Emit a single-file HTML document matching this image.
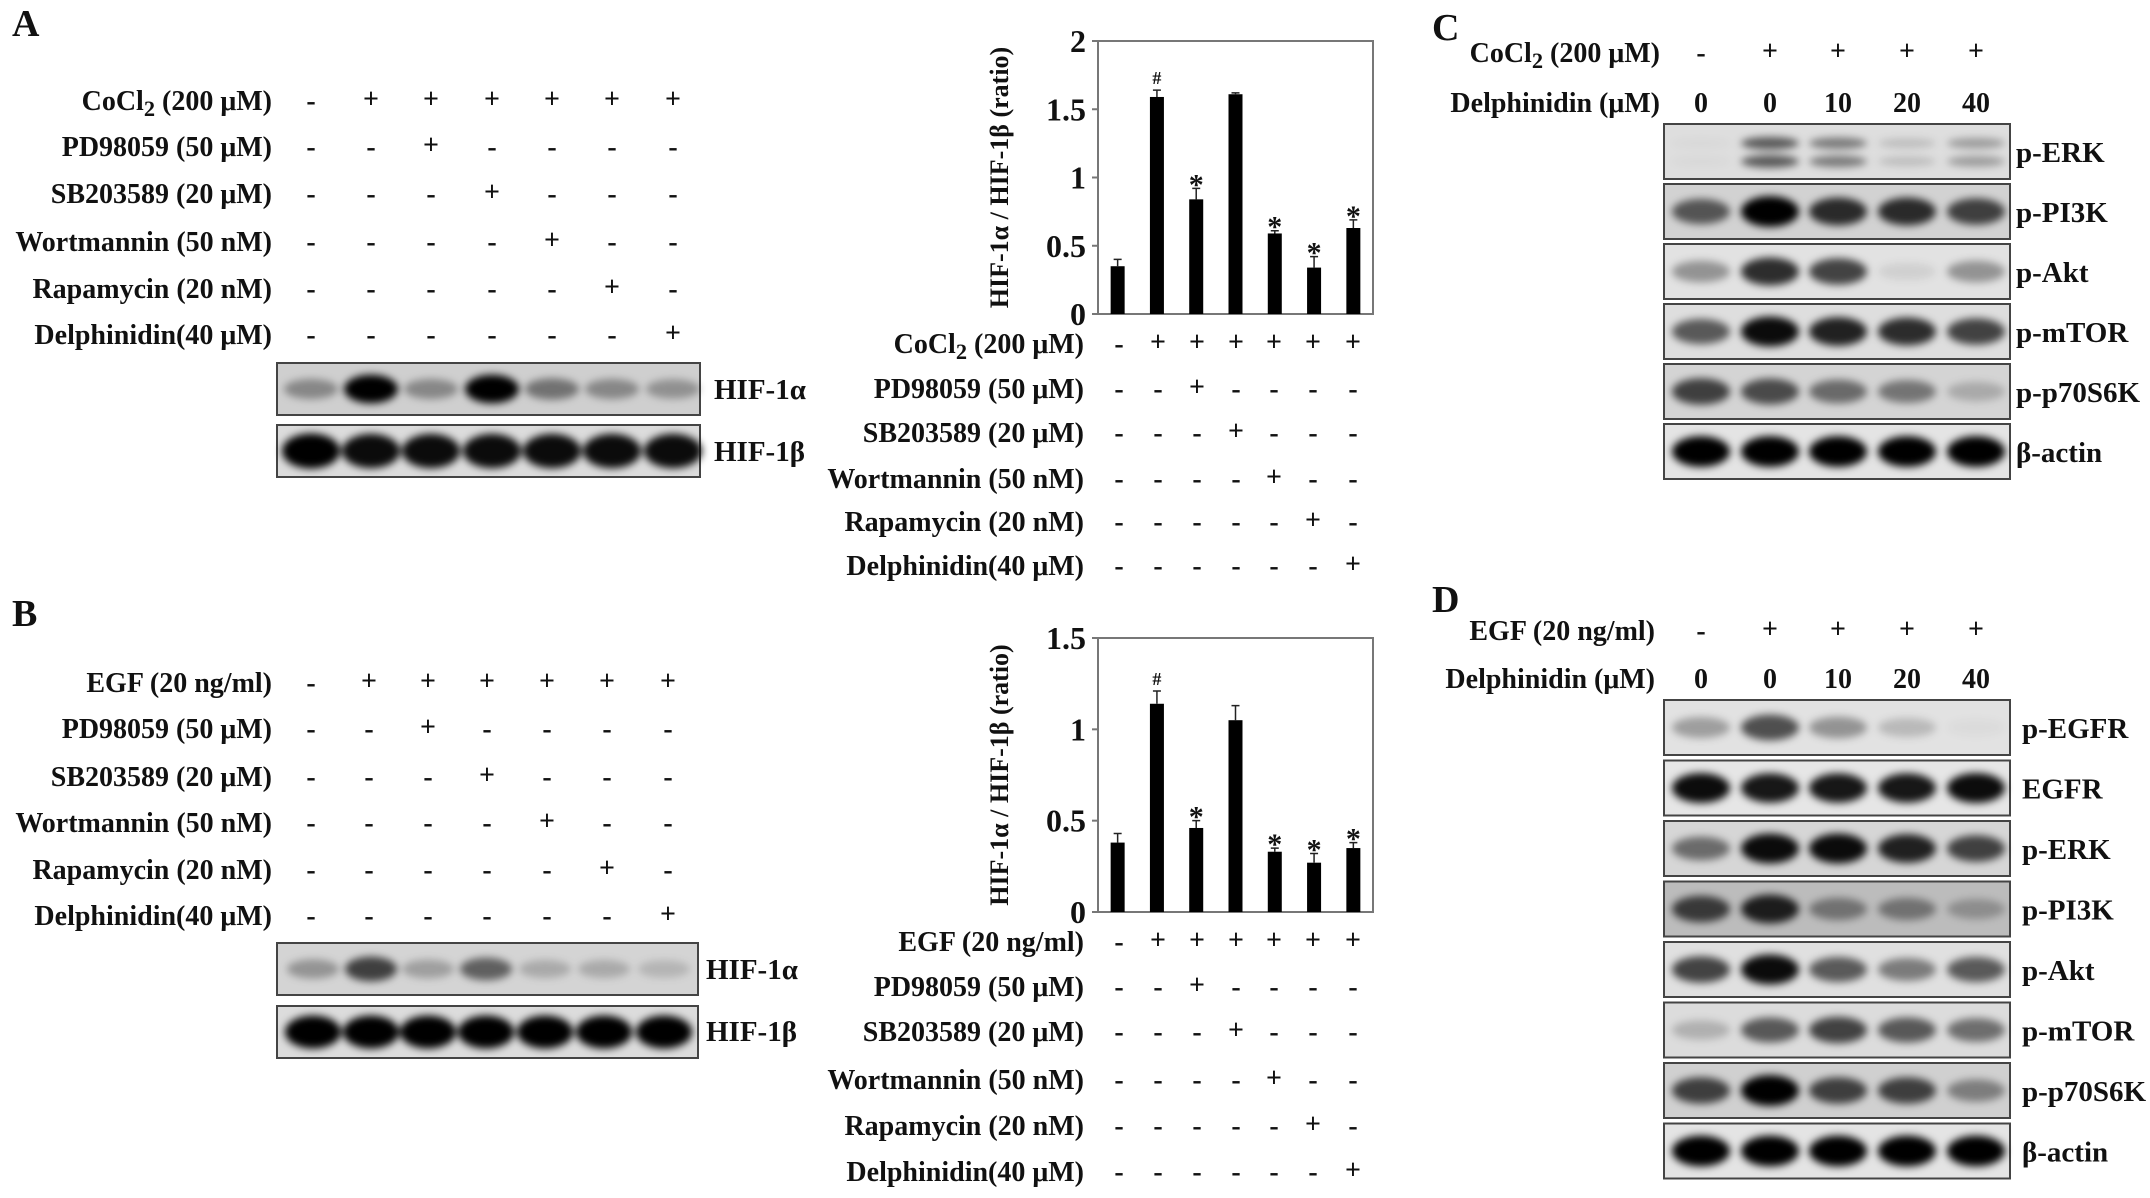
<!DOCTYPE html>
<html><head><meta charset="utf-8">
<style>
html,body{margin:0;padding:0;background:#fff;}
svg{display:block;}
text{font-family:"Liberation Serif",serif;font-weight:bold;fill:#111;}
</style></head>
<body>
<svg id="fig" width="2150" height="1198" viewBox="0 0 2150 1198" xmlns="http://www.w3.org/2000/svg">
<defs>
<filter id="blur" x="-50%" y="-100%" width="200%" height="300%"><feGaussianBlur stdDeviation="4"/></filter>
</defs>
<g id="root"></g>
</svg>
<script>
// ---- Chart data ----
const chartACategories = ["ctrl","CoCl2","PD98059","SB203589","Wortmannin","Rapamycin","Delphinidin"];
const chartAValues = [0.35,1.59,0.84,1.61,0.59,0.34,0.63];
const chartAErrors = [0.05,0.05,0.08,0.01,0.02,0.08,0.06];
const chartAMarks = ["","#","*","","*","*","*"];
const chartATicks = [0,0.5,1,1.5,2];
const chartBValues = [0.38,1.14,0.46,1.05,0.33,0.27,0.35];
const chartBErrors = [0.05,0.07,0.04,0.08,0.02,0.05,0.03];
const chartBMarks = ["","#","*","","*","*","*"];
const chartBTicks = [0,0.5,1,1.5];

const NS="http://www.w3.org/2000/svg";
const root=document.getElementById('root');
function el(tag,attrs,parent,txt){const e=document.createElementNS(NS,tag);for(const k in attrs)e.setAttribute(k,attrs[k]);if(txt!==undefined)e.textContent=txt;(parent||root).appendChild(e);return e;}

function panelLabel(t,x,y){
  const e=el('text',{x:x,y:y,'font-size':38},root,t);
  
  
}
panelLabel('A',12,36);panelLabel('B',12,626);panelLabel('C',1432,40);panelLabel('D',1432,612);

const FS=28;
function condTable(name,labels,rightX,ys,colXs,grid,fs){
  const g=el('g',{});
  
  
  labels.forEach((lab,i)=>{
    const t=el('text',{x:rightX,y:ys[i],'text-anchor':'end','font-size':fs},g);
    if(lab.indexOf('CoCl')===0){t.textContent='CoCl';el('tspan',{dy:6,'font-size':fs*0.8},t,'2');el('tspan',{dy:-6},t,lab.slice(5));}
    else t.textContent=lab;
    
    
    grid[i].forEach((v,j)=>{
      const m=el('text',{x:colXs[j],y:ys[i]-(v==='+'?2:0),'text-anchor':'middle','font-size':v==='+'?fs*1.0:fs,'font-weight':(v==='+'||v==='-')?'normal':'bold'},g,v);
      
      
    });
  });
}
const inhib=[
 ['-','+','+','+','+','+','+'],
 ['-','-','+','-','-','-','-'],
 ['-','-','-','+','-','-','-'],
 ['-','-','-','-','+','-','-'],
 ['-','-','-','-','-','+','-'],
 ['-','-','-','-','-','-','+']];
const labA=['CoCl2 (200 μM)','PD98059 (50 μM)','SB203589 (20 μM)','Wortmannin (50 nM)','Rapamycin (20 nM)','Delphinidin(40 μM)'];
const labB=['EGF (20 ng/ml)','PD98059 (50 μM)','SB203589 (20 μM)','Wortmannin (50 nM)','Rapamycin (20 nM)','Delphinidin(40 μM)'];
const blotCols=[311,371,431,492,552,612,673];
condTable('conditions-a',labA,272,[110,156,203,251,298,344],blotCols,inhib,FS);
condTable('conditions-b',labB,272,[692,738,786,832,879,925],[311,369,428,487,547,607,668],inhib,FS);

function blot(name,x,y,w,h,cols,ints,bg,bw,bh,dbl){
  const g=el('g',{});
  
  
  el('rect',{x:x,y:y,width:w,height:h,fill:bg,stroke:'#444','stroke-width':2},g);
  const gb=el('g',{filter:'url(#blur)'},g);
  cols.forEach((cx,i)=>{
    const v=ints[i]; if(v<=0.02)return;
    const ys=dbl?[y+h*0.35,y+h*0.68]:[y+h/2];
    ys.forEach(cy=>{
      const b=el('ellipse',{cx:cx,cy:cy,rx:bw/2,ry:(dbl?bh*0.5:bh)/2*(0.6+0.5*v),fill:'#000','fill-opacity':Math.min(1,v)},gb);
      
      
    });
  });
}
function blotLabel(t,x,y){const e=el('text',{x:x,y:y,'font-size':29},root,t);}

blot('blot-a-hif1a',277,363,423,52,blotCols,[0.35,1,0.35,1,0.45,0.35,0.3],'#cfcfcf',54,26);
blotLabel('HIF-1α',714,399);
blot('blot-a-hif1b',277,425,423,52,blotCols,[1,0.95,0.95,0.95,0.95,0.95,0.95],'#dcdcdc',58,32);
blotLabel('HIF-1β',714,461);
const colsB=[313,371,428,486,545,604,664];
blot('blot-b-hif1a',277,943,421,52,colsB,[0.3,0.7,0.25,0.55,0.2,0.2,0.15],'#d4d4d4',52,26);
blotLabel('HIF-1α',706,979);
blot('blot-b-hif1b',277,1006,421,52,colsB,[1,1,1,1,1,1,1],'#dcdcdc',56,30);
blotLabel('HIF-1β',706,1041);

const colsC=[1701,1770,1838,1907,1976];
condTable('conditions-c',['CoCl2 (200 μM)'],1660,[62],colsC,[['-','+','+','+','+']],FS);
condTable('conditions-c2',['Delphinidin (μM)'],1660,[112],colsC,[['0','0','10','20','40']],FS);
const cRows=[['p-ERK',[0.03,0.6,0.45,0.15,0.3],'#dedede',true],['p-PI3K',[0.6,1,0.8,0.8,0.7],'#d2d2d2'],['p-Akt',[0.35,0.8,0.7,0.08,0.35],'#e2e2e2'],['p-mTOR',[0.6,0.95,0.85,0.8,0.7],'#dedede'],['p-p70S6K',[0.7,0.65,0.5,0.45,0.2],'#d4d4d4'],['β-actin',[1,1,1,1,1],'#e4e4e4']];
cRows.forEach((r,i)=>{const y=124+i*60;blot('blot-c-'+r[0],1664,y,346,55,colsC,r[1],r[2],58,28,r[3]);blotLabel(r[0],2016,y+38);});
condTable('conditions-d',['EGF (20 ng/ml)'],1655,[640],colsC,[['-','+','+','+','+']],FS);
condTable('conditions-d2',['Delphinidin (μM)'],1655,[688],colsC,[['0','0','10','20','40']],FS);
const dRows=[['p-EGFR',[0.3,0.65,0.35,0.18,0.03],'#e2e2e2'],['EGFR',[0.95,0.9,0.9,0.9,0.95],'#e6e6e6'],['p-ERK',[0.5,0.95,0.95,0.85,0.7],'#d6d6d6'],['p-PI3K',[0.7,0.85,0.4,0.4,0.25],'#bcbcbc'],['p-Akt',[0.7,0.95,0.6,0.45,0.6],'#e0e0e0'],['p-mTOR',[0.2,0.6,0.7,0.6,0.5],'#dcdcdc'],['p-p70S6K',[0.7,1,0.7,0.7,0.4],'#d0d0d0'],['β-actin',[1,1,1,1,1],'#e4e4e4']];
dRows.forEach((r,i)=>{const y=700+i*60.5;blot('blot-d-'+r[0],1664,y,346,55,colsC,r[1],r[2],58,28);blotLabel(r[0],2022,y+38);});

function barChart(name,box,ticks,vals,errs,marks,yMax){
  const g=el('g',{});
  
  
  const {x0,x1,y0,y1}=box;
  const yS=v=>y1-(v/yMax)*(y1-y0);
  const n=vals.length, step=(x1-x0)/n;
  const xS=i=>x0+step*(i+0.5);
  const fr=el('rect',{x:x0,y:y0,width:x1-x0,height:y1-y0,fill:'none',stroke:'#777','stroke-width':2},g);
  
  ticks.forEach(t=>{
    const tl=el('line',{x1:x0-6,x2:x0,y1:yS(t),y2:yS(t),stroke:'#777','stroke-width':2},g);
    
    const tx=el('text',{x:x0-12,y:yS(t)+11,'text-anchor':'end','font-size':32},g,String(t));
    
  });
  vals.forEach((v,i)=>{
    const cx=xS(i), bw=14;
    const b=el('rect',{x:cx-bw/2,y:yS(v),width:bw,height:y1-yS(v),fill:'#000'},g);
    
    const e=errs[i], ty=yS(v+e);
    const ep=el('path',{d:`M${cx},${yS(v)} V${ty} M${cx-4},${ty} H${cx+4}`,stroke:'#222','stroke-width':1.5,fill:'none'},g);
    
    if(marks[i]){
      const m=el('text',{x:cx,y:ty-(marks[i]==='*'?-6:6),'text-anchor':'middle','font-size':marks[i]==='*'?30:18,'font-weight':'normal'},g,marks[i]);
      
    }
  });
  const cy=(y0+y1)/2;
  const yt=el('text',{x:0,y:0,'text-anchor':'middle','font-size':26,transform:`translate(${x0-90},${cy}) rotate(-90)`},g,'HIF-1α / HIF-1β (ratio)');
  
}
barChart('bar-chart-a',{x0:1098,x1:1373,y0:41,y1:314},chartATicks,chartAValues,chartAErrors,chartAMarks,2);
barChart('bar-chart-b',{x0:1098,x1:1373,y0:638,y1:912},chartBTicks,chartBValues,chartBErrors,chartBMarks,1.5);
const barCols=[1119,1158,1197,1236,1274,1313,1353];
condTable('chart-a-conditions',labA,1084,[353,398,442,488,531,575],barCols,inhib,FS);
condTable('chart-b-conditions',labB,1084,[951,996,1041,1089,1135,1181],barCols,inhib,FS);
</script>
</body></html>
